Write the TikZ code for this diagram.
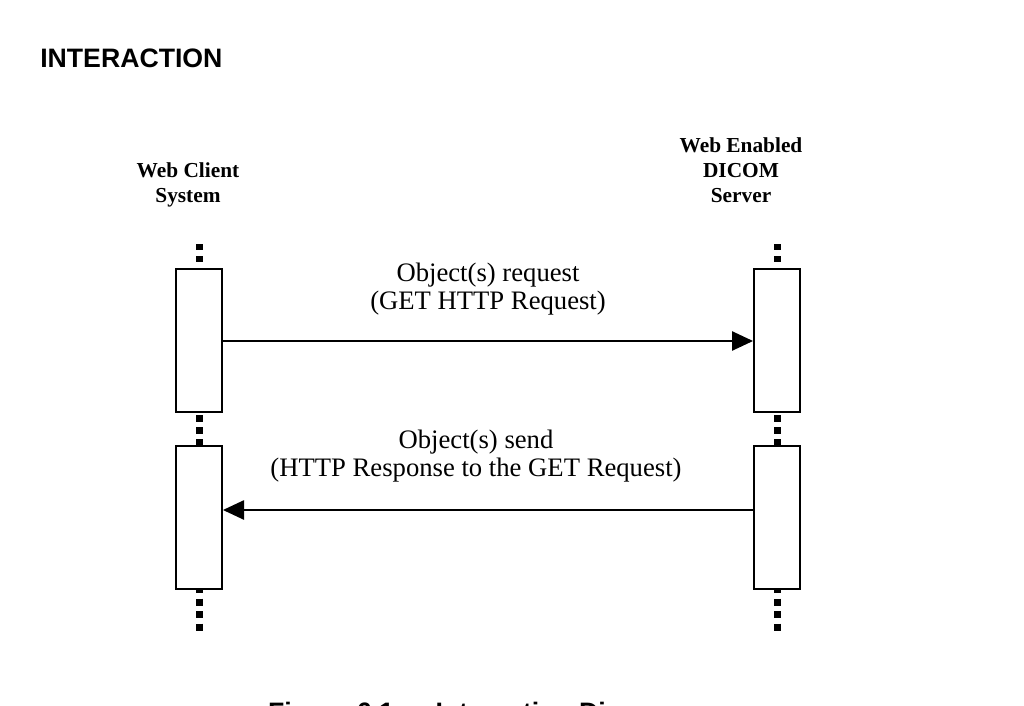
\documentclass[tikz,border=0pt]{standalone}
\usepackage{fontspec}
\setmainfont{Liberation Serif}
\newfontfamily\arialfont{Liberation Sans}
\usetikzlibrary{arrows.meta}
\begin{document}
\begin{tikzpicture}[x=0.75pt,y=-0.75pt,
  lifebox/.style={draw=black,fill=white,line width=1.5pt,minimum width=34.5pt,minimum height=107.25pt,inner sep=0pt},
  msg/.style={line width=1.1pt,-{Triangle[length=15.75pt,width=14.5pt]}},
  hdr/.style={anchor=base,inner sep=0pt,font=\fontsize{16}{19}\selectfont\bfseries},
  lbl/.style={anchor=base,inner sep=0pt,font=\fontsize{20}{24}\selectfont},
  dotsA/.style={line width=5.25pt,dash pattern=on 4.5pt off 4.5pt},
  dotsB/.style={line width=5.25pt,dash pattern=on 5.25pt off 3.75pt},
  dotsC/.style={line width=5.25pt,dash pattern=on 5.25pt off 4.125pt}]
\useasboundingbox (0,0) rectangle (1024,706);
\fill[white] (0,0) rectangle (1024,706);
% title
\node[anchor=base west,inner sep=0pt,font=\arialfont\fontsize{20}{24}\selectfont\bfseries] (title) at (40,67.5) {INTERACTION};
% headers
\node[hdr] (hl1) at (188,177) {Web Client};
\node[hdr] (hl2) at (188,202) {System};
\node[hdr] (hr1) at (741,153) {Web Enabled};
\node[hdr] (hr2) at (741,178) {DICOM};
\node[hdr] (hr3) at (741,203) {Server};
% lifeline dots
\draw[dotsA] (199,244) -- (199,262);
\draw[dotsB] (199,415) -- (199,446);
\draw[dotsC] (199,586) -- (199,631);
\draw[dotsA] (777,244) -- (777,262);
\draw[dotsB] (777,415) -- (777,446);
\draw[dotsC] (777,586) -- (777,631);
% activation boxes
\node[lifebox] (lc1) at (199,340.5) {};
\node[lifebox] (lc2) at (199,517.5) {};
\node[lifebox] (rs1) at (777,340.5) {};
\node[lifebox] (rs2) at (777,517.5) {};
% messages
\draw[msg] (lc1.east |- 0,341) -- (rs1.west |- 0,341);
\draw[msg] (rs2.west |- 0,510) -- (lc2.east |- 0,510);
% labels
\node[lbl] (m1a) at (488,281) {Object(s) request};
\node[lbl] (m1b) at (488,309) {(GET HTTP Request)};
\node[lbl] (m2a) at (476,448) {Object(s) send};
\node[lbl] (m2b) at (476,476.5) {(HTTP Response to the GET Request)};
% caption (cut off at the bottom edge, as in the reference)
\node[anchor=base,inner sep=0pt,font=\arialfont\fontsize{20}{24}\selectfont\bfseries] (cap) at (477,721) {Figure 6.1 — Interaction Diagram};
\end{tikzpicture}
\end{document}
